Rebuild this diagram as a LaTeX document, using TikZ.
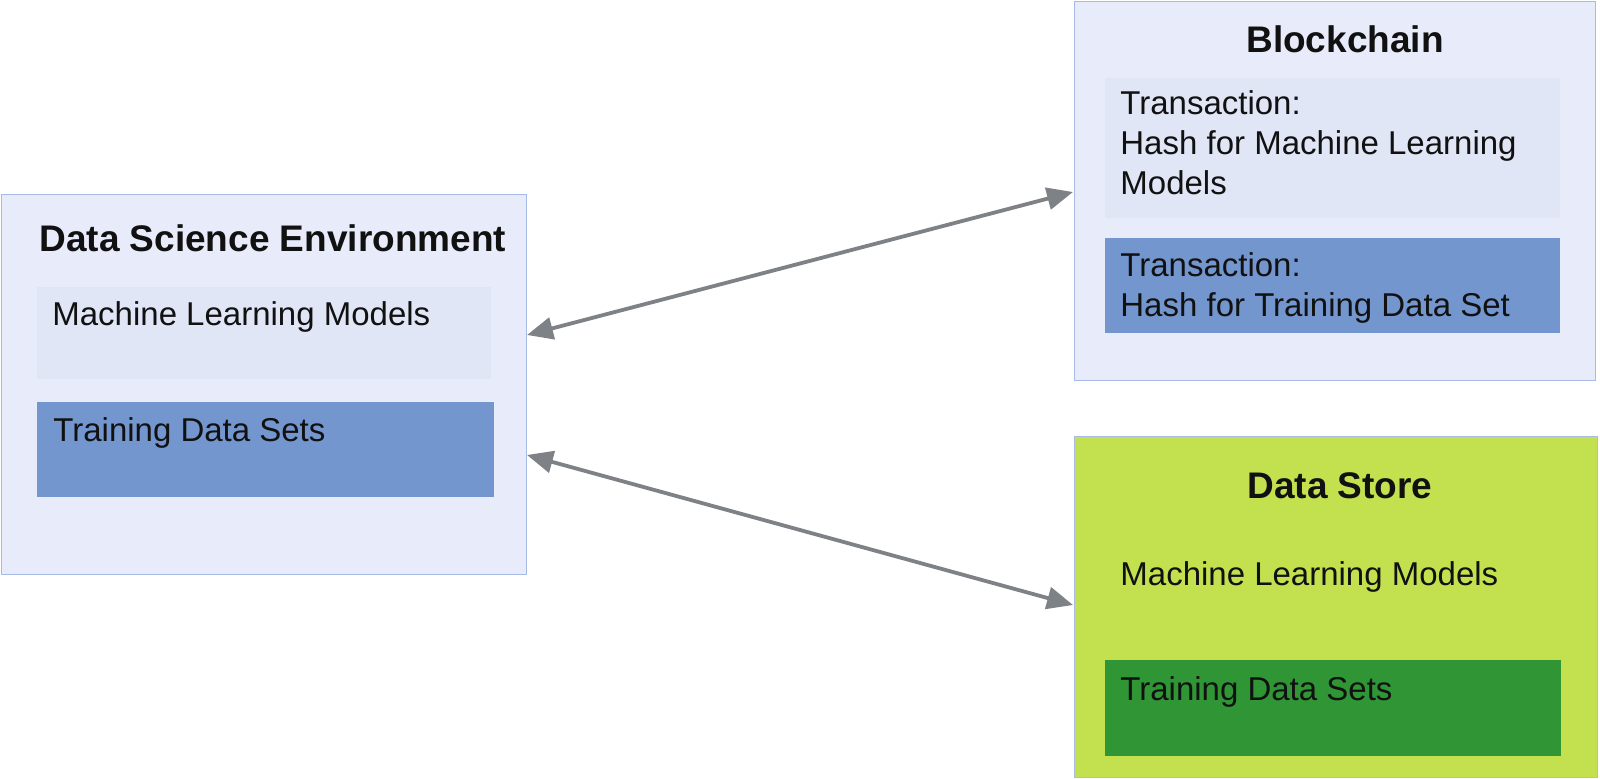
\documentclass[tikz,border=0pt]{standalone}
\usepackage{fontspec}
\setmainfont{Liberation Sans}
\usetikzlibrary{arrows.meta,calc}
\definecolor{outerfill}{HTML}{E8EBFA}
\definecolor{outerline}{HTML}{A6BBE6}
\definecolor{innerlight}{HTML}{E1E6F7}
\definecolor{blueband}{HTML}{7396CE}
\definecolor{greenlight}{HTML}{C3E14F}
\definecolor{greendark}{HTML}{2F9535}
\definecolor{arrowgray}{HTML}{7E8287}
\definecolor{txt}{HTML}{111111}
\begin{document}
\begin{tikzpicture}[x=0.5pt,y=-0.5pt,
  box/.style={rectangle, inner sep=0pt, outer sep=0pt, anchor=north west},
  outerbox/.style={box, draw=outerline, line width=0.5pt, fill=outerfill},
  greenbox/.style={box, draw=outerline, line width=0.5pt, fill=greenlight},
  lightband/.style={box, fill=innerlight},
  blueb/.style={box, fill=blueband},
  greenb/.style={box, fill=greendark},
  titletext/.style={font=\fontsize{18.5}{20}\selectfont\bfseries, text=txt, inner sep=0pt, anchor=base},
  bodytext/.style={font=\fontsize{16.5}{20}\selectfont, text=txt, inner sep=0pt, anchor=base west, align=left},
  arr/.style={draw=arrowgray, line width=1.9pt, {Triangle[length=13pt,width=11pt]}-{Triangle[length=13pt,width=11pt]}}]
\useasboundingbox (0,0) rectangle (1600,779);
\fill[white] (0,0) rectangle (1600,779);

% Data Science Environment
\node[outerbox, minimum width=262.5pt, minimum height=190pt] (dse) at (1,195) {};
\node[lightband, minimum width=227pt, minimum height=46pt] (dsemlm) at (37,287) {};
\node[blueb, minimum width=228.5pt, minimum height=47.5pt] (dsetr) at (37,402) {};
\node[titletext, anchor=base west] (dsetitle) at (39,252) {Data Science Environment};
\node[bodytext] (dsemlmtext) at (52,326) {Machine Learning Models};
\node[bodytext] (dsetrtext) at (53,442) {Training Data Sets};

% Blockchain
\node[outerbox, minimum width=260.5pt, minimum height=189.5pt] (bc) at (1074,2) {};
\node[lightband, minimum width=227.5pt, minimum height=70pt] (tx1) at (1105,78) {};
\node[blueb, minimum width=227.5pt, minimum height=47.5pt] (tx2) at (1105,238) {};
\node[titletext] (bctitle) at (1345,53) {Blockchain};
% base anchor of a multi-line node is the baseline of its last line
\node[bodytext] (tx1text) at (1120,195) {Transaction:\\Hash for Machine Learning\\Models};
\node[bodytext] (tx2text) at (1120,317) {Transaction:\\Hash for Training Data Set};

% Data Store
\node[greenbox, minimum width=261.5pt, minimum height=170pt] (ds) at (1074,437) {};
\node[greenb, minimum width=228pt, minimum height=48pt] (dstr) at (1105,660) {};
\node[titletext] (dstitle) at (1340,499) {Data Store};
\node[bodytext] (dsmlmtext) at (1120,586) {Machine Learning Models};
\node[bodytext] (dstrtext) at (1120,700) {Training Data Sets};

% connector end points on the box borders
\coordinate (dseA) at ($(dse.north east)+(1,140)$);
\coordinate (dseB) at ($(dse.north east)+(1,260)$);
\coordinate (bcA) at ($(bc.north west)+(-1,190)$);
\coordinate (dsA) at ($(ds.north west)+(-1,168)$);

\draw[arr] (dseA) -- (bcA);
\draw[arr] (dseB) -- (dsA);
\end{tikzpicture}
\end{document}
